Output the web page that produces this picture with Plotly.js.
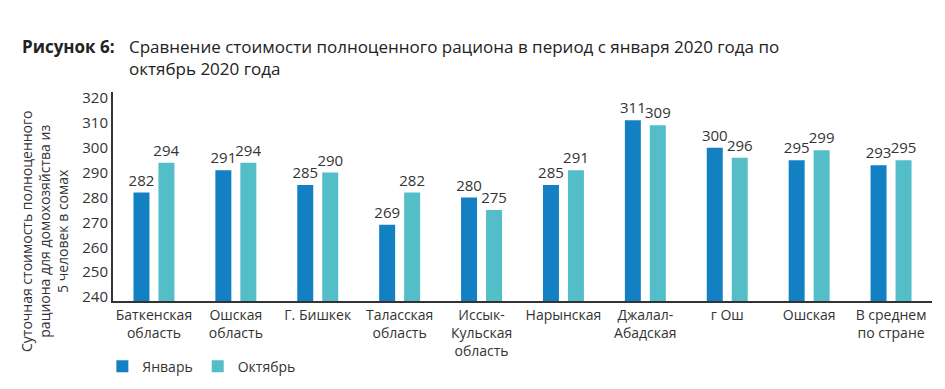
<!DOCTYPE html>
<html>
<head>
<meta charset="utf-8">
<script src="https://cdn.plot.ly/plotly-3.0.1.min.js"></script>
<style>html,body{margin:0;padding:0;background:#fff;}#chart{width:945px;height:389px;}</style>
</head>
<body>
<div id="chart"></div>
<script>
var categories = ["Баткенская<br>область", "Ошская<br>область", "Г. Бишкек", "Таласская<br>область", "Иссык-<br>Кульская<br>область", "Нарынская", "Джалал-<br>Абадская", "г Ош", "Ошская", "В среднем<br>по стране"];
var january = [282, 291, 285, 269, 280, 285, 311, 300, 295, 293];
var october = [294, 294, 290, 282, 275, 291, 309, 296, 299, 295];
var seriesNames = ["Январь", "Октябрь"];
var yTicks = [240, 250, 260, 270, 280, 290, 300, 310, 320];

var FONT = "Open Sans, Noto Sans, sans-serif";
var traces = [
  {type: "bar", name: seriesNames[0], x: categories, y: january, marker: {color: "#1380c4"},
   text: january.map(String), textposition: "outside", cliponaxis: false, constraintext: "none",
   textfont: {family: FONT, size: 15, color: "#333"}},
  {type: "bar", name: seriesNames[1], x: categories, y: october, marker: {color: "#53bdc8"},
   text: october.map(String), textposition: "outside", cliponaxis: false, constraintext: "none",
   textfont: {family: FONT, size: 15, color: "#333"}}
];
var layout = {
  width: 945, height: 389,
  margin: {l: 113, r: 13, t: 92, b: 88, autoexpand: false},
  paper_bgcolor: "#fff", plot_bgcolor: "#fff",
  font: {family: FONT, size: 14, color: "#333"},
  barmode: "group", bargap: 0.39, bargroupgap: 0.36,
  showlegend: true,
  legend: {orientation: "h", x: -0.013, xanchor: "left", y: -0.238, yanchor: "top",
           font: {family: FONT, size: 14, color: "#333"}},
  xaxis: {type: "category", showline: true, linecolor: "#333", linewidth: 2,
          ticks: "", tickfont: {family: FONT, size: 14, color: "#333"}, automargin: false},
  yaxis: {range: [238.4, 322.4], tickvals: yTicks, showgrid: false, zeroline: false,
          showline: true, linecolor: "#333", linewidth: 2, ticks: "",
          tickfont: {family: FONT, size: 15, color: "#333"}, automargin: false},
  annotations: [
    {xref: "paper", yref: "paper", x: -0.1136, y: 1.22, xanchor: "left", yanchor: "middle",
     text: "<b>Рисунок 6:</b>", showarrow: false, font: {family: FONT, size: 17, color: "#222"}, align: "left"},
    {xref: "paper", yref: "paper", x: 0.017, y: 1.167, xanchor: "left", yanchor: "middle",
     text: "Сравнение стоимости полноценного рациона в период с января 2020 года по<br>октябрь 2020 года",
     showarrow: false, font: {family: FONT, size: 17, color: "#222"}, align: "left"},
    {xref: "paper", yref: "paper", x: -0.083, y: 0.335, xanchor: "center", yanchor: "middle",
     text: "Суточная стоимость полноценного<br>рациона для домохозяйства из<br>5 человек в сомах",
     textangle: -90, showarrow: false, font: {family: FONT, size: 14, color: "#333"}, align: "center"}
  ]
};
Plotly.newPlot("chart", traces, layout, {displayModeBar: false, staticPlot: true});
</script>
</body>
</html>
